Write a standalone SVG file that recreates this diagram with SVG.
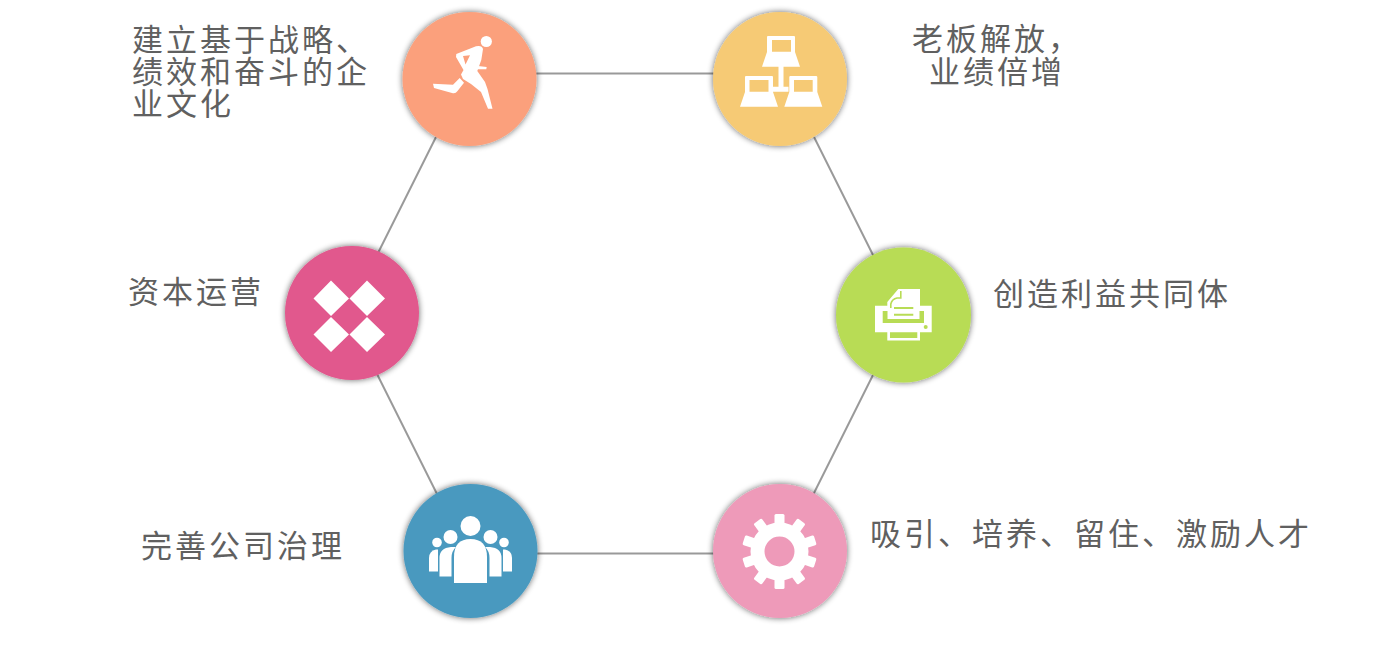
<svg xmlns="http://www.w3.org/2000/svg" width="1395" height="660" viewBox="0 0 1395 660">
<defs>
<filter id="sh" x="-20%" y="-20%" width="140%" height="140%"><feGaussianBlur in="SourceAlpha" stdDeviation="3"/><feComponentTransfer><feFuncA type="linear" slope="0.6"/></feComponentTransfer><feMerge><feMergeNode/><feMergeNode in="SourceGraphic"/></feMerge></filter>
</defs>
<style>
text{font-family:"Noto Sans CJK SC","Noto Sans",sans-serif;font-size:31px;fill:#606060;letter-spacing:3px}
.c{stroke:#999;stroke-width:2;fill:none}
.i{fill:#fff}
circle.b{filter:url(#sh)}
</style>
<rect width="1395" height="660" fill="#fff"/>
<g id="connectors">
<line class="c" x1="536" y1="73.500" x2="714" y2="73.500"/>
<line class="c" x1="814" y1="137" x2="874" y2="257"/>
<line class="c" x1="873" y1="375" x2="813" y2="495"/>
<line class="c" x1="714" y1="553.500" x2="537" y2="553.500"/>
<line class="c" x1="437" y1="494" x2="377" y2="374"/>
<line class="c" x1="378" y1="253" x2="436" y2="137"/>
</g>
<g id="node-run">
<circle class="b" cx="469.500" cy="79" r="67" fill="#fba07c"/>
<circle class="i" cx="486.300" cy="41.500" r="5.600"/>
<path class="i" fill-rule="evenodd" d="M456.300 54L476 46.300Q482 45 483 49L481.300 60L477.300 71L485 82L487.500 89L492.500 108.700H488L481 92L471 84L463 79L461 74.500L463.500 70L456 57ZM463 56L465.500 64.500L470 55.300Z"/>
<path class="i" d="M478 66L486.700 67L486.300 69.300H477.500Z"/>
<path class="i" d="M433 83.700L453 84.700L459.700 78L464 82.700L457.300 91.300Q455.500 94 452 93L434 88Z"/>
</g>
<g id="node-network">
<circle class="b" cx="780" cy="79" r="67" fill="#f6ca74"/>
<path class="i" fill-rule="evenodd" d="M768 36H794Q795 36 795 37V52L800 66.700H762L767 52V37Q767 36 768 36ZM772 40V51.700H791V40Z"/>
<path class="i" d="M778.500 66H783.500V86.700H788.500V91.700H772.500V86.700H778.500Z"/>
<path class="i" fill-rule="evenodd" d="M746 76H772Q773 76 773 77V92L778 106.700H740L745 92V77Q745 76 746 76ZM749.500 80V91.700H768.500V80Z"/>
<path class="i" fill-rule="evenodd" d="M790.500 76H816Q817.300 76 817.300 77V92L822.300 106.700H784.300L789.300 92V77Q789.300 76 790.500 76ZM794 80V91.700H812.700V80Z"/>
</g>
<g id="node-printer">
<circle class="b" cx="903.500" cy="315" r="67.500" fill="#b8dc55"/>
<path class="i" d="M887.300 305.700V302L898.300 289H920V305.700H931.700V332.300H920V340.500H887.300V332.300H875V305.700Z"/>
<path fill="none" stroke="#b8dc55" stroke-width="1.600" d="M900.800 291V298H897Q892 299 890.800 304V308"/>
<path fill="#b8dc55" d="M882.700 311H887.500V319H919.500V311H924V323H882.700Z"/>
<path fill="#b8dc55" d="M894 307H913.300V309H894ZM894 313.700H913.300V315.700H894ZM890 332.300H917.300V338H890Z"/>
<circle cx="925.700" cy="327" r="2" fill="#b8dc55"/>
</g>
<g id="node-diamonds">
<circle class="b" cx="352" cy="313" r="67" fill="#e1588d"/>
<path class="i" d="M331 280.500L349 298.500L331 316L313.500 298.500ZM367 280.500L385 298.500L367 316L349.500 298.500ZM331 317L349 334.500L331 352L313.500 334.500ZM367 317L385 334.500L367 352L349.500 334.500Z"/>
</g>
<g id="node-people">
<circle class="b" cx="470.500" cy="551" r="67" fill="#4a99bf"/>
<circle class="i" cx="470.500" cy="526" r="10"/>
<circle class="i" cx="450.500" cy="537" r="7"/>
<circle class="i" cx="490.500" cy="537" r="7"/>
<circle class="i" cx="437" cy="542.500" r="4.800"/>
<circle class="i" cx="504" cy="542.500" r="4.800"/>
<path class="i" d="M454 583V557Q454 539 470.500 539Q487 539 487 557V583Z"/>
<path class="i" d="M439.500 576.500V558Q439.500 548 451 547Q456 547 456 547Q451.500 551 451.500 558V576.500Z" />
<path class="i" d="M501.500 576.500V558Q501.500 548 490 547Q485 547 485 547Q489.500 551 489.500 558V576.500Z"/>
<path class="i" d="M429 571.500V558Q429 551 436 549.500Q438 549.500 438 549.500V571.500Z"/>
<path class="i" d="M512 571.500V558Q512 551 505 549.500Q503 549.500 503 549.500V571.500Z"/>
</g>
<g id="node-gear">
<circle class="b" cx="780" cy="551" r="67" fill="#ee9ab9"/>
<g transform="translate(779.500 551.500)">
<path class="i" fill-rule="evenodd" d="M0-29A29 29 0 1 0 0 29A29 29 0 1 0 0-29ZM0-15A15 15 0 1 1 0 15A15 15 0 1 1 0-15Z"/>
<g class="i">
<rect x="-5" y="-37.500" width="10" height="12" rx="1.500"/>
<rect x="-5" y="-37.500" width="10" height="12" rx="1.500" transform="rotate(36)"/>
<rect x="-5" y="-37.500" width="10" height="12" rx="1.500" transform="rotate(72)"/>
<rect x="-5" y="-37.500" width="10" height="12" rx="1.500" transform="rotate(108)"/>
<rect x="-5" y="-37.500" width="10" height="12" rx="1.500" transform="rotate(144)"/>
<rect x="-5" y="-37.500" width="10" height="12" rx="1.500" transform="rotate(180)"/>
<rect x="-5" y="-37.500" width="10" height="12" rx="1.500" transform="rotate(216)"/>
<rect x="-5" y="-37.500" width="10" height="12" rx="1.500" transform="rotate(252)"/>
<rect x="-5" y="-37.500" width="10" height="12" rx="1.500" transform="rotate(288)"/>
<rect x="-5" y="-37.500" width="10" height="12" rx="1.500" transform="rotate(324)"/>
</g>
</g>
</g>
<g id="labels">
<text x="132" y="51">建立基于战略、</text>
<text x="132" y="83">绩效和奋斗的企</text>
<text x="132" y="115">业文化</text>
<text x="912" y="50">老板解放，</text>
<text x="929" y="83">业绩倍增</text>
<text x="128" y="303">资本运营</text>
<text x="993" y="305">创造利益共同体</text>
<text x="141" y="557">完善公司治理</text>
<text x="870" y="545">吸引、培养、留住、激励人才</text>
</g>
</svg>
